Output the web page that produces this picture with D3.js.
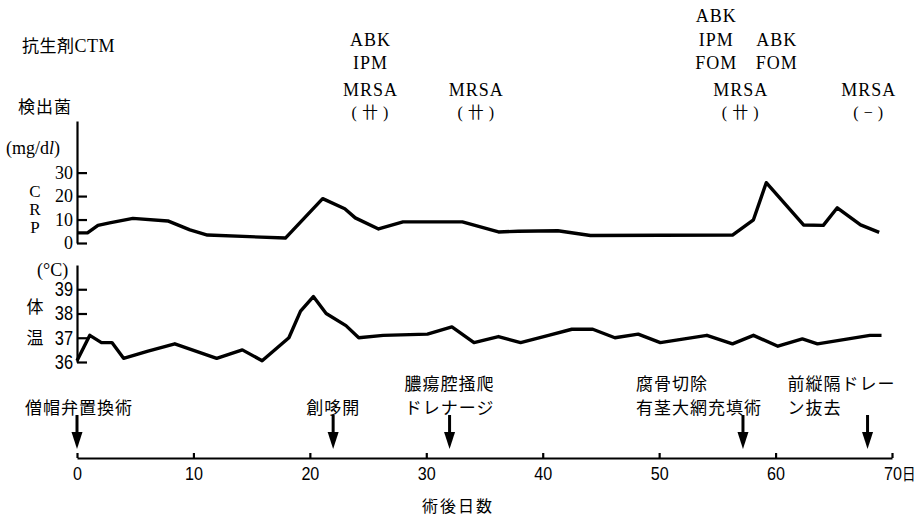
<!DOCTYPE html>
<html>
<head>
<meta charset="utf-8">
<title>術後経過</title>
<script src="https://d3js.org/d3.v7.min.js"></script>
<style>
  body { margin: 0; background: #fff; }
  .serif { font-family: "Liberation Serif", "Noto Sans CJK JP", serif; }
  .jp { font-family: "Noto Sans CJK JP", sans-serif; }
  .axis path, .axis line { stroke: #000; stroke-width: 2.2px; }
  .axis text { fill: #000; }
</style>
</head>
<body>
<div id="chart"></div>
<script>
// Days after surgery and CRP (mg/dl)
var crpDays   = [0, 0.9, 1.8, 2.8, 4.8, 7.8, 9.7, 11.2, 17.9, 21.1, 23.0, 23.9, 25.9, 28.0, 33.1, 36.2, 37.9, 41.3, 44.1, 56.3, 58.1, 59.2, 62.4, 64.1, 65.3, 67.3, 68.9];
var crpValues = [4.3, 4.3, 7.5, 8.6, 10.5, 9.4, 5.6, 3.4, 2.1, 18.9, 14.6, 10.7, 6.0, 9.0, 9.0, 4.7, 5.0, 5.2, 3.2, 3.4, 9.9, 25.7, 7.7, 7.5, 15.0, 7.7, 4.5];

// Days after surgery and body temperature (°C)
var tempDays   = [0, 1.1, 2.1, 3.0, 4.0, 6.1, 8.4, 12.0, 14.2, 15.9, 18.2, 19.2, 20.3, 21.4, 23.1, 24.2, 26.3, 30.1, 32.2, 34.1, 36.2, 38.1, 40.5, 42.5, 44.3, 46.2, 48.2, 50.1, 54.1, 56.3, 58.1, 60.2, 62.3, 63.6, 68.1, 69.1];
var tempValues = [36.05, 37.1, 36.8, 36.8, 36.15, 36.45, 36.75, 36.15, 36.5, 36.05, 37.0, 38.1, 38.7, 38.0, 37.5, 37.0, 37.1, 37.15, 37.45, 36.8, 37.05, 36.8, 37.1, 37.35, 37.35, 37.0, 37.15, 36.8, 37.1, 36.75, 37.1, 36.65, 36.95, 36.75, 37.1, 37.1];

// Axis ticks
var dayTicks  = [0, 10, 20, 30, 40, 50, 60, 70];
var crpTicks  = [0, 10, 20, 30];
var tempTicks = [36, 37, 38, 39];

// Antibiotics (day, drugs listed top to bottom)
var drugDays  = [25.2, 54.9, 60.1];
var drugLists = [["ABK", "IPM"], ["ABK", "IPM", "FOM"], ["ABK", "FOM"]];

// Detected bacteria
var germDays    = [25.2, 34.3, 57.0, 68.0];
var germNames   = ["MRSA", "MRSA", "MRSA", "MRSA"];
var germResults = ["(卄)", "(卄)", "(卄)", "(−)"];

// Operations / events (arrows)
var eventDays  = [0, 22.0, 32.0, 57.2, 67.9];
var eventTexts = [["僧帽弁置換術"], ["創哆開"], ["膿瘍腔掻爬", "ドレナージ"], ["腐骨切除", "有茎大網充填術"], ["前縦隔ドレー", "ン抜去"]];

var W = 923, H = 520;
var svg = d3.select("#chart").append("svg")
  .attr("width", W).attr("height", H);

var x = d3.scaleLinear().domain([0, 70]).range([77, 892]);
var yCrp = d3.scaleLinear().domain([0, 52]).range([243, 121]);
var yTemp = d3.scaleLinear().domain([36, 40]).range([362, 265]);

var narrow = "'Liberation Sans', Arial, sans-serif";

// --- axes
var crpAxis = svg.append("g")
  .attr("class", "axis")
  .attr("transform", "translate(" + x(0) + ",0)")
  .call(d3.axisLeft(yCrp).tickValues(crpTicks).tickFormat(d3.format("d"))
    .tickSizeInner(-10).tickSizeOuter(0).tickPadding(4));
crpAxis.selectAll("text")
  .attr("font-family", "'Liberation Serif', serif")
  .attr("font-size", 18);

var tempAxis = svg.append("g")
  .attr("class", "axis")
  .attr("transform", "translate(" + x(0) + ",0)")
  .call(d3.axisLeft(yTemp).tickValues(tempTicks).tickFormat(d3.format("d"))
    .tickSizeInner(-10).tickSizeOuter(0).tickPadding(4));
tempAxis.selectAll("text")
  .attr("font-family", narrow)
  .attr("font-size", 20)
  .attr("x", -4 / 0.82)
  .attr("transform", "scale(0.82,1)");

var dayAxis = svg.append("g")
  .attr("class", "axis")
  .attr("transform", "translate(0,458)")
  .call(d3.axisBottom(x).tickValues(dayTicks).tickFormat(d3.format("d"))
    .tickSizeInner(-5).tickSizeOuter(0).tickPadding(9));
dayAxis.selectAll("text")
  .attr("font-family", narrow)
  .attr("font-size", 19)
  .attr("transform", "scale(0.85,1)");
dayAxis.selectAll(".tick").filter(function(d) { return d === 70; }).select("text")
  .attr("text-anchor", "start").attr("x", -10)
  .append("tspan").attr("class", "jp").attr("font-size", 16).text("日");

// --- lines
var line = d3.line().x(function(d) { return x(d[0]); }).y(function(d) { return d[1]; });

svg.append("path")
  .datum(crpDays.map(function(d, i) { return [d, yCrp(crpValues[i])]; }))
  .attr("d", line)
  .attr("fill", "none").attr("stroke", "#000").attr("stroke-width", 3.4)
  .attr("stroke-linejoin", "round");

svg.append("path")
  .datum(tempDays.map(function(d, i) { return [d, yTemp(tempValues[i])]; }))
  .attr("d", line)
  .attr("fill", "none").attr("stroke", "#000").attr("stroke-width", 3.4)
  .attr("stroke-linejoin", "round");

// --- axis titles
var left = svg.append("g").attr("class", "serif").attr("fill", "#000");
left.append("text").attr("x", 22).attr("y", 52).attr("font-size", 18).attr("letter-spacing", 0.5)
  .html("<tspan class='jp' font-size='17'>抗生剤</tspan>CTM");
left.append("text").attr("class", "jp").attr("x", 18).attr("y", 113).attr("font-size", 17).attr("letter-spacing", 1).text("検出菌");
left.append("text").attr("x", 6).attr("y", 154).attr("font-size", 18)
  .html("(mg/d<tspan font-style='italic'>l</tspan>)");
// vertical "CRP", one letter per line
left.selectAll(".crp").data(["C", "R", "P"]).enter().append("text")
  .attr("x", 35).attr("y", function(d, i) { return 197 + i * 18; })
  .attr("text-anchor", "middle").attr("font-size", 17).text(function(d) { return d; });
left.append("text").attr("x", 37).attr("y", 276).attr("font-size", 18).text("(°C)");
left.append("text").attr("class", "jp").attr("x", 35).attr("y", 313).attr("text-anchor", "middle").attr("font-size", 17).text("体");
left.append("text").attr("class", "jp").attr("x", 35).attr("y", 344).attr("text-anchor", "middle").attr("font-size", 17).text("温");

// --- antibiotic stacks (bottom aligned)
drugDays.forEach(function(day, i) {
  var list = drugLists[i];
  svg.selectAll(null).data(list).enter().append("text")
    .attr("class", "serif")
    .attr("x", x(day))
    .attr("y", function(d, j) { return 69 - (list.length - 1 - j) * 23.5; })
    .attr("text-anchor", "middle").attr("font-size", 18).attr("letter-spacing", 1)
    .text(function(d) { return d; });
});

// --- detected bacteria
svg.selectAll(null).data(germDays).enter().append("text")
  .attr("class", "serif")
  .attr("x", function(d) { return x(d); }).attr("y", 96)
  .attr("text-anchor", "middle").attr("font-size", 18).attr("letter-spacing", 1)
  .text(function(d, i) { return germNames[i]; });
svg.selectAll(null).data(germDays).enter().append("text")
  .attr("class", "serif")
  .attr("x", function(d) { return x(d) + 2; }).attr("y", 118)
  .attr("text-anchor", "middle").attr("font-size", 16).attr("letter-spacing", 5)
  .text(function(d, i) { return germResults[i]; });

// --- event arrows
var arrows = svg.append("g");
eventDays.forEach(function(day) {
  var cx = x(day);
  arrows.append("line")
    .attr("x1", cx).attr("x2", cx).attr("y1", 415).attr("y2", 436)
    .attr("stroke", "#000").attr("stroke-width", 3);
  arrows.append("path")
    .attr("d", "M" + (cx - 5.5) + ",432 L" + (cx + 5.5) + ",432 L" + cx + ",449 Z")
    .attr("fill", "#000");
});

// label layout: which side of the arrow each text sits on
var eventAnchors = ["left", "middle", "middle", "right", "left2"];
eventTexts.forEach(function(lines, i) {
  var cx = x(eventDays[i]);
  var anchor = "middle", tx = cx;
  if (eventAnchors[i] === "left") { anchor = "start"; tx = cx - 52; }
  if (eventAnchors[i] === "right") { anchor = "start"; tx = cx - 107; }
  if (eventAnchors[i] === "left2") { anchor = "start"; tx = cx - 80; }
  var n = lines.length;
  svg.selectAll(null).data(lines).enter().append("text")
    .attr("class", "jp")
    .attr("x", tx)
    .attr("y", function(d, j) { return 414 - (n - 1 - j) * 24; })
    .attr("text-anchor", anchor).attr("font-size", 17).attr("letter-spacing", 1)
    .text(function(d) { return d; });
});

// --- x title
svg.append("text").attr("class", "jp")
  .attr("x", 458).attr("y", 512).attr("text-anchor", "middle")
  .attr("font-size", 16).attr("letter-spacing", 2).text("術後日数");
</script>
</body>
</html>
